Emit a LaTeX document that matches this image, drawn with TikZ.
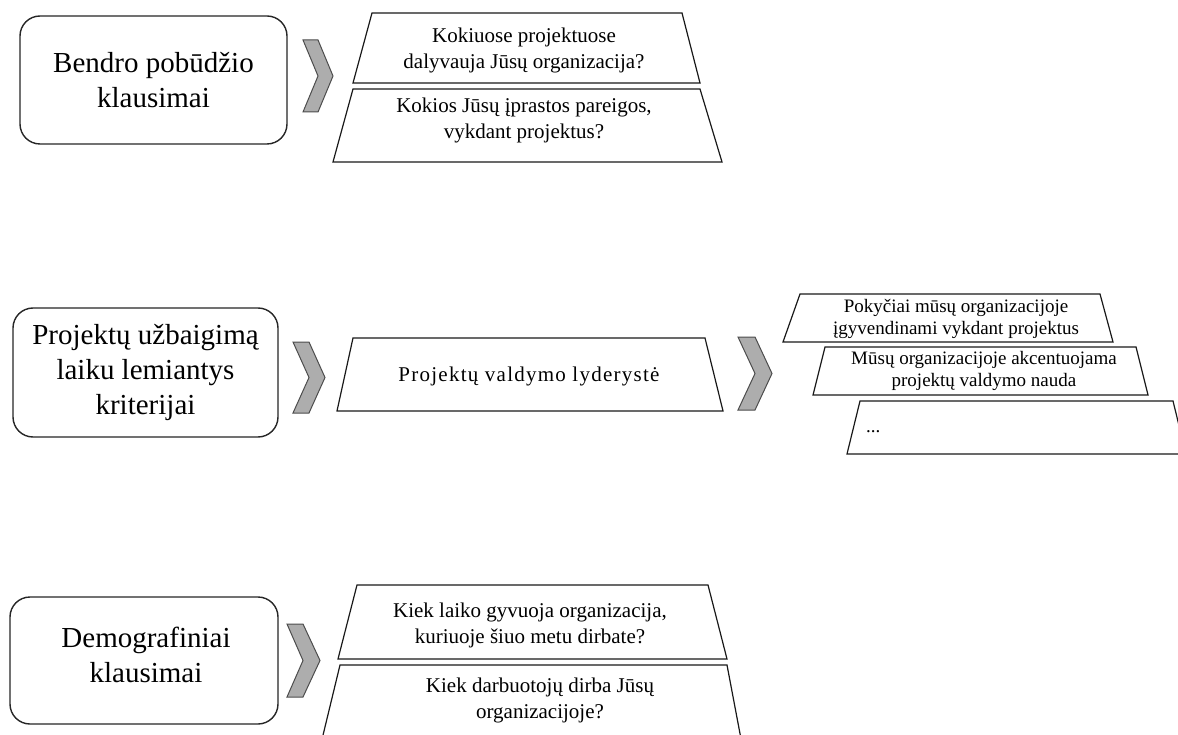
\documentclass[tikz,border=0pt]{standalone}
\usepackage{fontspec}
\setmainfont{Liberation Serif}
\begin{document}
\begin{tikzpicture}[x=1pt,y=-1pt,
  box/.style={draw=black!85, line width=1.4pt, rounded corners=20pt, fill=white, inner sep=0pt},
  chev/.style={draw=black!70, fill=black!32, line width=1pt, line join=miter},
  trap/.style={draw=black!90, line width=1.2pt, line join=miter},
  big/.style={font=\fontsize{29}{35}\selectfont, align=center, inner sep=0pt},
  mid/.style={font=\fontsize{21}{26}\selectfont, align=center, inner sep=0pt},
  small/.style={font=\fontsize{19}{22}\selectfont, align=center, inner sep=0pt}]
\useasboundingbox (0,0) rectangle (1178,735);
\clip (0,0) rectangle (1178,735);
% row 1
\node[box, minimum width=267pt, minimum height=128pt] (b1) at (153.5,80) {};
\node[big] (b1t) at (b1.center) {Bendro pobūdžio\\klausimai};
\draw[chev] (303,40) -- (318,40) -- (333,76) -- (318,112) -- (303,112) -- (318,76) -- cycle;
\draw[trap] (372,13) -- (682,13) -- (700,83) -- (353,83) -- cycle;
\node[mid] (t1) at (524,50) {Kokiuose projektuose\\dalyvauja Jūsų organizacija?};
\draw[trap] (353,89) -- (700,89) -- (722,162) -- (333,162) -- cycle;
\node[mid] (t2) at (524,120) {Kokios Jūsų įprastos pareigos,\\vykdant projektus?};
% row 2
\node[box, minimum width=265pt, minimum height=129pt] (b2) at (145.5,372.5) {};
\node[big] (b2t) at (b2.center) {Projektų užbaigimą\\laiku lemiantys\\kriterijai};
\draw[chev] (293,342) -- (309,342) -- (325,377.5) -- (309,413) -- (293,413) -- (309,377.5) -- cycle;
\draw[trap] (353,338) -- (705,338) -- (723,411) -- (337,411) -- cycle;
\node[mid, font=\fontsize{21}{26}\selectfont\addfontfeature{LetterSpace=6}] (tm) at (529,376) {Projektų valdymo lyderystė};
\draw[chev] (738,337) -- (755,337) -- (772,373.5) -- (755,410) -- (738,410) -- (755,373.5) -- cycle;
\draw[trap] (800,294) -- (1100,294) -- (1113,342) -- (783,342) -- cycle;
\node[small] (ta) at (956,319) {Pokyčiai mūsų organizacijoje\\įgyvendinami vykdant projektus};
\draw[trap] (825,347) -- (1136,347) -- (1148,395) -- (813,395) -- cycle;
\node[small] (tb) at (984,371) {Mūsų organizacijoje akcentuojama\\projektų valdymo nauda};
\draw[trap] (860,401) -- (1173,401) -- (1186,454) -- (847,454) -- cycle;
\node[small, anchor=west] (tc) at (866,432) {...};
% row 3
\node[box, minimum width=268pt, minimum height=127pt] (b3) at (144,660.5) {};
\node[big] (b3t) at (146,655) {Demografiniai\\klausimai};
\draw[chev] (287,624) -- (303,624) -- (320,660.5) -- (303,697) -- (287,697) -- (303,660.5) -- cycle;
\draw[trap] (357,585) -- (708,585) -- (727,659) -- (338,659) -- cycle;
\node[mid] (t3a) at (530,625) {Kiek laiko gyvuoja organizacija,\\kuriuoje šiuo metu dirbate?};
\draw[trap] (745,760) -- (727,665) -- (340,665) -- (317,760);
\node[mid] (t3b) at (540,700) {Kiek darbuotojų dirba Jūsų\\organizacijoje?};
\end{tikzpicture}
\end{document}
